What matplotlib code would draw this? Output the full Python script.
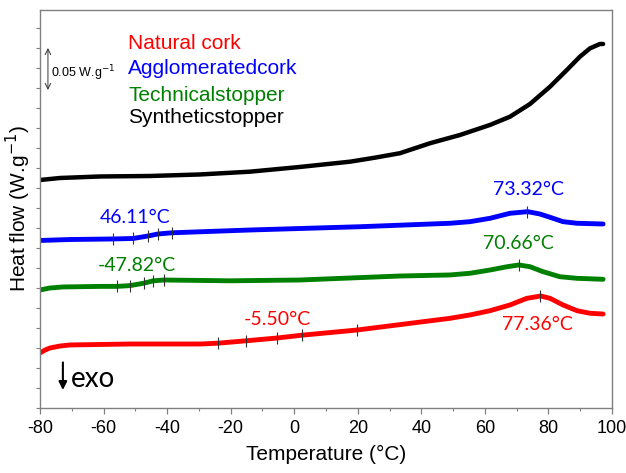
import numpy as np
import matplotlib
matplotlib.use("Agg")
import matplotlib.pyplot as plt

# DSC curves (temperature in C, heat flow in W/g, offset)
t_black = [-80.0, -73.7, -61.1, -45.4, -29.7, -13.9, 1.8, 17.6, 25.4, 33.3, 42.7, 52.2, 61.6, 67.9, 74.2, 80.5, 85.8, 89.9, 93.1, 96.2, 97.2]
hf_black = [0.285, 0.2875, 0.2894, 0.290, 0.2919, 0.2954, 0.3013, 0.3079, 0.3129, 0.3185, 0.3309, 0.3413, 0.3538, 0.3641, 0.380, 0.4016, 0.4225, 0.4391, 0.4496, 0.455, 0.455]

t_blue = [-80.0, -70.6, -57.0, -50.7, -46.0, -42.9, -38.5, -13.9, 20.7, 49.0, 55.3, 61.6, 67.9, 73.5, 77.3, 80.5, 84.6, 89.0, 97.2]
hf_blue = [0.2094, 0.2106, 0.2113, 0.2119, 0.215, 0.2175, 0.219, 0.2225, 0.2266, 0.2309, 0.2329, 0.2371, 0.2434, 0.2454, 0.2425, 0.2384, 0.2329, 0.2309, 0.230]

t_green = [-80.0, -76.9, -72.8, -61.1, -55.8, -51.7, -47.3, -44.4, -41.0, -20.2, 1.8, 33.3, 49.0, 55.3, 61.6, 67.0, 70.7, 74.2, 78.3, 83.6, 89.0, 97.2]
hf_green = [0.1475, 0.150, 0.1513, 0.152, 0.152, 0.153, 0.156, 0.159, 0.160, 0.159, 0.160, 0.165, 0.1663, 0.1684, 0.1725, 0.1766, 0.1788, 0.1766, 0.1704, 0.1641, 0.1621, 0.1609]

t_red = [-80.0, -78.4, -76.9, -73.7, -70.6, -51.7, -29.7, -24.0, -15.2, -5.4, 2.4, 19.8, 49.0, 55.3, 61.6, 67.9, 73.2, 77.6, 80.5, 84.6, 89.0, 93.1, 97.2]
hf_red = [0.0688, 0.0725, 0.075, 0.0775, 0.0788, 0.080, 0.080, 0.081, 0.084, 0.0875, 0.091, 0.0975, 0.1121, 0.1163, 0.1216, 0.1288, 0.1371, 0.140, 0.1371, 0.1288, 0.1216, 0.1184, 0.1175]

# tangent / onset marks drawn on the curves
marks_blue = [-57.0, -50.7, -46.0, -42.9, -38.5, 73.3]
marks_green = [-55.8, -51.7, -47.3, -44.4, -41.0, 70.7]
marks_red = [-24.0, -15.2, -5.4, 2.4, 19.8, 77.4]

names = ["Natural cork", "Agglomeratedcork", "Technicalstopper", "Syntheticstopper"]
name_colors = ["red", "blue", "green", "black"]

labels = ["46.11°C", "73.32°C", "-47.82°C", "70.66°C", "-5.50°C", "77.36°C"]
label_pos = [(-50.1, 0.2375), (73.6, 0.2725), (-49.5, 0.1775), (70.4, 0.206), (-5.4, 0.111), (76.4, 0.105)]
label_colors = ["blue", "blue", "green", "green", "red", "red"]

xticks = np.arange(-80, 101, 20)

plt.rcParams['font.family'] = ['Liberation Sans', 'DejaVu Sans']
plt.rcParams['axes.unicode_minus'] = False

fig = plt.figure(figsize=(6.26, 4.73), dpi=100)
ax = fig.add_axes([0.0639, 0.1374, 0.9137, 0.8415])

ax.plot(t_black, hf_black, color="black", lw=3.2, solid_capstyle="round", solid_joinstyle="round")
ax.plot(t_blue, hf_blue, color="blue", lw=3.5, solid_capstyle="round", solid_joinstyle="round")
ax.plot(t_green, hf_green, color="green", lw=3.5, solid_capstyle="round", solid_joinstyle="round")
ax.plot(t_red, hf_red, color="red", lw=3.5, solid_capstyle="round", solid_joinstyle="round")

for t, hf, m in [(t_blue, hf_blue, marks_blue), (t_green, hf_green, marks_green), (t_red, hf_red, marks_red)]:
    ax.plot(m, np.interp(m, t, hf), ls="none", marker="|", ms=9, mew=0.8, color="#333333")

for (x, y), s, c in zip(label_pos, labels, label_colors):
    ax.text(x, y, s, color=c, fontsize=14, ha="center", va="center", family=["Lato", "DejaVu Sans"])

legend_y = [0.456, 0.424, 0.391, 0.3625]
for s, c, y in zip(names, name_colors, legend_y):
    ax.text(-52.3, y, s, color=c, fontsize=15, ha="left", va="center")

# scale bar
ax.annotate("", xy=(-77.5, 0.45), xytext=(-77.5, 0.3975),
            arrowprops=dict(arrowstyle="<->", lw=0.7, color="#333333", shrinkA=0, shrinkB=0))
ax.text(-76.6, 0.419, "0.05 W.g$^{-1}$", fontsize=9, ha="left", va="center")

# exo direction
ax.annotate("", xy=(-72.8, 0.0225), xytext=(-72.8, 0.057),
            arrowprops=dict(arrowstyle="-|>", lw=1.5, color="black", mutation_scale=12, shrinkA=0, shrinkB=0))
ax.text(-70.2, 0.036, "exo", fontsize=20, ha="left", va="center", family=["Lato", "DejaVu Sans"])

ax.set_xlim(-80, 100)
ax.set_ylim(0, 0.4975)
ax.set_xticks(xticks)
ax.set_xticks(np.arange(-70, 100, 20), minor=True)
ax.set_yticks(np.arange(0, 0.49, 0.025))
ax.set_yticklabels([])
ax.tick_params(axis="x", which="major", length=4.5, width=0.9, color="#808080", labelsize=13, pad=4)
ax.tick_params(axis="x", which="minor", length=2.5, width=0.8, color="#808080")
ax.tick_params(axis="y", length=3, width=0.8, color="#808080")
for sp in ax.spines.values():
    sp.set_color("#808080")
    sp.set_linewidth(1.0)

ax.set_xlabel("Temperature (°C)", fontsize=15, labelpad=6)
ax.set_ylabel("Heat flow (W.g$^{-1}$)", fontsize=15)
ax.yaxis.set_label_coords(-0.012, 0.5)

fig.savefig("out.png", dpi=100)
